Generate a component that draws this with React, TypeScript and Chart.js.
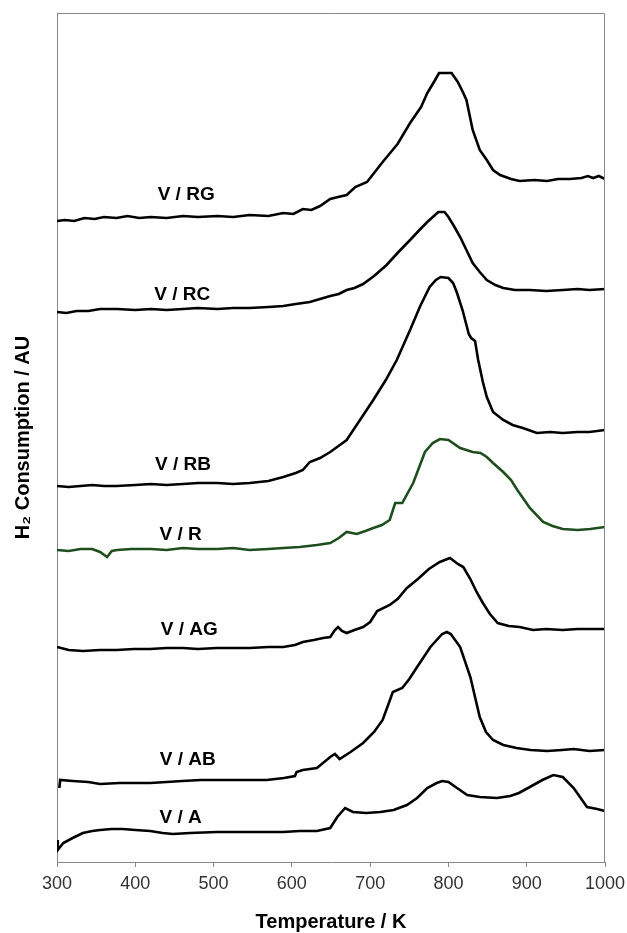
import React, { useEffect, useRef } from "react";
import { Chart, registerables } from "chart.js";

Chart.register(...registerables);

// Temperature (K) / H2 consumption (arbitrary units)
const xTickValues = [300, 400, 500, 600, 700, 800, 900, 1000];

const tRG = [300, 310, 322, 335, 348, 360, 376, 390, 405, 420, 440, 461, 480, 505, 525, 546, 570, 589, 602, 614, 625, 636, 649, 659, 670, 681, 696, 716, 735, 751, 765, 773, 783, 788, 804, 812, 819, 823, 831, 840, 849, 857, 866, 880, 891, 910, 926, 940, 955, 970, 978, 985, 992, 1000];
const vRG = [641, 642, 641, 644, 643, 645, 644, 646, 644, 645, 644, 646, 645, 646, 645, 647, 646, 649, 648, 653, 652, 656, 663, 665, 667, 675, 680, 700, 718, 739, 755, 769, 782, 789, 789, 780, 769, 762, 732, 712, 702, 692, 687, 683, 681, 682, 681, 683, 683, 684, 686, 684, 686, 683];

const tRC = [300, 312, 325, 340, 355, 377, 400, 420, 440, 461, 480, 505, 525, 546, 570, 589, 605, 623, 636, 649, 660, 670, 680, 691, 705, 721, 735, 751, 763, 773, 787, 795, 800, 807, 815, 823, 831, 840, 849, 860, 870, 885, 904, 925, 946, 965, 980, 1000];
const vRC = [550, 549, 551, 551, 553, 553, 552, 553, 552, 553, 554, 553, 554, 554, 555, 556, 558, 560, 563, 566, 568, 572, 574, 578, 586, 597, 609, 622, 632, 640, 650, 650, 645, 636, 625, 612, 599, 590, 582, 577, 574, 572, 572, 571, 572, 573, 572, 573];

const tRB = [300, 315, 330, 345, 360, 376, 400, 420, 440, 461, 480, 505, 525, 546, 570, 589, 605, 614, 623, 636, 649, 670, 687, 704, 720, 734, 751, 764, 776, 784, 790, 800, 806, 811, 818, 824, 826, 829, 834, 838, 844, 849, 857, 870, 882, 895, 913, 930, 946, 965, 980, 1000];
const vRB = [376, 375, 376, 377, 376, 376, 377, 378, 377, 378, 379, 379, 378, 379, 381, 385, 389, 392, 400, 404, 410, 422, 442, 462, 482, 502, 532, 556, 575, 582, 585, 584, 579, 569, 552, 534, 528, 524, 521, 502, 480, 465, 450, 442, 437, 434, 429, 430, 429, 430, 430, 432];

const tR = [300, 315, 330, 345, 355, 364, 370, 377, 395, 420, 440, 461, 480, 505, 525, 546, 570, 589, 610, 632, 649, 660, 670, 683, 694, 704, 715, 725, 732, 741, 755, 770, 780, 789, 800, 815, 831, 841, 849, 857, 870, 880, 888, 904, 921, 933, 946, 965, 981, 1000];
const vR = [312, 311, 313, 313, 310, 305, 311, 312, 313, 313, 312, 314, 313, 313, 314, 312, 313, 314, 315, 317, 319, 324, 330, 328, 331, 334, 337, 342, 359, 359, 379, 410, 419, 423, 422, 414, 410, 409, 405, 399, 390, 382, 372, 354, 340, 336, 333, 332, 333, 335];

const tAG = [300, 315, 333, 355, 376, 398, 419, 440, 461, 480, 504, 525, 546, 570, 589, 604, 614, 628, 640, 649, 655, 659, 664, 670, 680, 691, 700, 709, 725, 735, 747, 761, 775, 789, 802, 812, 819, 828, 836, 844, 853, 863, 877, 891, 908, 925, 946, 965, 985, 1000];
const vAG = [215, 212, 211, 212, 212, 213, 213, 214, 214, 213, 214, 214, 214, 215, 215, 217, 220, 222, 224, 225, 232, 235, 231, 229, 232, 235, 240, 251, 257, 263, 274, 283, 293, 300, 304, 298, 295, 283, 270, 259, 248, 239, 236, 235, 232, 233, 232, 233, 233, 233];

const tAB = [303, 304, 320, 340, 355, 380, 400, 419, 440, 460, 484, 504, 525, 546, 568, 590, 604, 606, 614, 632, 649, 655, 661, 675, 691, 705, 716, 729, 741, 750, 760, 777, 792, 798, 803, 815, 828, 840, 848, 857, 870, 887, 905, 926, 945, 960, 980, 1000];
const vAB = [74, 82, 81, 80, 78, 79, 79, 79, 80, 81, 82, 82, 82, 82, 82, 84, 86, 90, 92, 94, 105, 108, 103, 110, 119, 130, 142, 170, 174, 183, 195, 215, 228, 230, 228, 215, 185, 145, 130, 122, 117, 114, 112, 111, 112, 113, 111, 112];

const tA = [300, 301, 308, 320, 333, 345, 355, 370, 384, 400, 419, 435, 448, 470, 504, 525, 546, 570, 589, 610, 632, 649, 658, 668, 678, 695, 713, 730, 747, 760, 773, 785, 792, 800, 811, 824, 840, 862, 879, 890, 904, 920, 934, 946, 960, 977, 990, 1000];
const vA = [22, 12, 19, 24, 29, 31, 32, 33, 33, 32, 31, 29, 28, 29, 30, 30, 30, 30, 30, 31, 31, 34, 45, 54, 50, 49, 50, 52, 57, 64, 74, 79, 81, 80, 74, 67, 65, 64, 66, 69, 75, 82, 87, 85, 74, 55, 53, 51];

const seriesNames = ["V / RG", "V / RC", "V / RB", "V / R", "V / AG", "V / AB", "V / A"];
const seriesT = [tRG, tRC, tRB, tR, tAG, tAB, tA];
const seriesV = [vRG, vRC, vRB, vR, vAG, vAB, vA];
const seriesColors = ["#000000", "#000000", "#000000", "#1e4d1e", "#000000", "#000000", "#000000"];

// label anchor positions (data coordinates)
const labelT = [465, 460, 461, 458, 469, 467, 458];
const labelV = [667, 567, 397, 327, 232, 102, 44];

const FONT = "'Liberation Sans', Arial, Helvetica, sans-serif";

const curveLabels = {
  id: "curveLabels",
  afterDatasetsDraw(chart: any) {
    const { ctx, scales } = chart;
    ctx.save();
    ctx.fillStyle = "#000";
    ctx.font = `bold 19px ${FONT}`;
    ctx.textAlign = "center";
    ctx.textBaseline = "middle";
    seriesNames.forEach((name, i) => {
      ctx.fillText(name, scales.x.getPixelForValue(labelT[i]), scales.y.getPixelForValue(labelV[i]));
    });
    ctx.restore();
  },
};

const frame = {
  id: "frame",
  afterDraw(chart: any) {
    const { ctx, chartArea } = chart;
    ctx.save();
    ctx.strokeStyle = "#888";
    ctx.lineWidth = 1;
    ctx.beginPath();
    ctx.moveTo(chartArea.left, chartArea.top + 0.5);
    ctx.lineTo(chartArea.right - 0.5, chartArea.top + 0.5);
    ctx.lineTo(chartArea.right - 0.5, chartArea.bottom);
    ctx.stroke();
    ctx.restore();
  },
};

export default function App() {
  const ref = useRef<HTMLCanvasElement | null>(null);
  useEffect(() => {
    if (!ref.current) return;
    const datasets = seriesNames.map((name, i) => ({
      label: name,
      data: seriesT[i].map((t, j) => ({ x: t, y: seriesV[i][j] })),
      borderColor: seriesColors[i],
      borderWidth: 2.6,
      pointRadius: 0,
      tension: 0,
      fill: false,
    }));
    const chart = new Chart(ref.current, {
      type: "line",
      data: { datasets },
      plugins: [curveLabels, frame],
      options: {
        animation: false,
        responsive: false,
        maintainAspectRatio: false,
        layout: { padding: { left: 0, right: 22, top: 13, bottom: 0 } },
        plugins: { legend: { display: false }, tooltip: { enabled: false } },
        scales: {
          x: {
            type: "linear",
            min: 300,
            max: 1000,
            afterBuildTicks: (scale: any) => {
              scale.ticks = xTickValues.map((v) => ({ value: v }));
            },
            afterFit: (scale: any) => {
              scale.height = 71;
              scale.paddingLeft = 0;
              scale.paddingRight = 0;
            },
            ticks: {
              color: "#333",
              font: { family: FONT, size: 18 },
              padding: 6,
              maxRotation: 0,
              autoSkip: false,
              callback: (v: any) => String(v),
            },
            grid: {
              display: true,
              drawOnChartArea: false,
              drawTicks: true,
              tickLength: 5,
              color: "#888",
            },
            border: { display: true, color: "#888", width: 1 },
            title: {
              display: true,
              text: "Temperature / K",
              color: "#000",
              font: { family: FONT, size: 20, weight: "bold", lineHeight: 1 },
              padding: { top: 0, bottom: 1 },
            },
          },
          y: {
            type: "linear",
            min: 0,
            max: 849,
            afterFit: (scale: any) => {
              scale.width = 57;
            },
            ticks: { display: false },
            grid: { display: false },
            border: { display: true, color: "#888", width: 1 },
            title: {
              display: true,
              text: "H₂ Consumption / AU",
              color: "#000",
              font: { family: FONT, size: 20, weight: "bold", lineHeight: 1 },
              padding: { top: 13, bottom: 0 },
            },
          },
        },
      },
    });
    return () => chart.destroy();
  }, []);
  return (
    <div style={{ position: "fixed", left: 0, top: 0, width: 627, height: 933, background: "#fff" }}>
      <canvas ref={ref} width={627} height={933} style={{ display: "block", width: 627, height: 933 }} />
    </div>
  );
}
